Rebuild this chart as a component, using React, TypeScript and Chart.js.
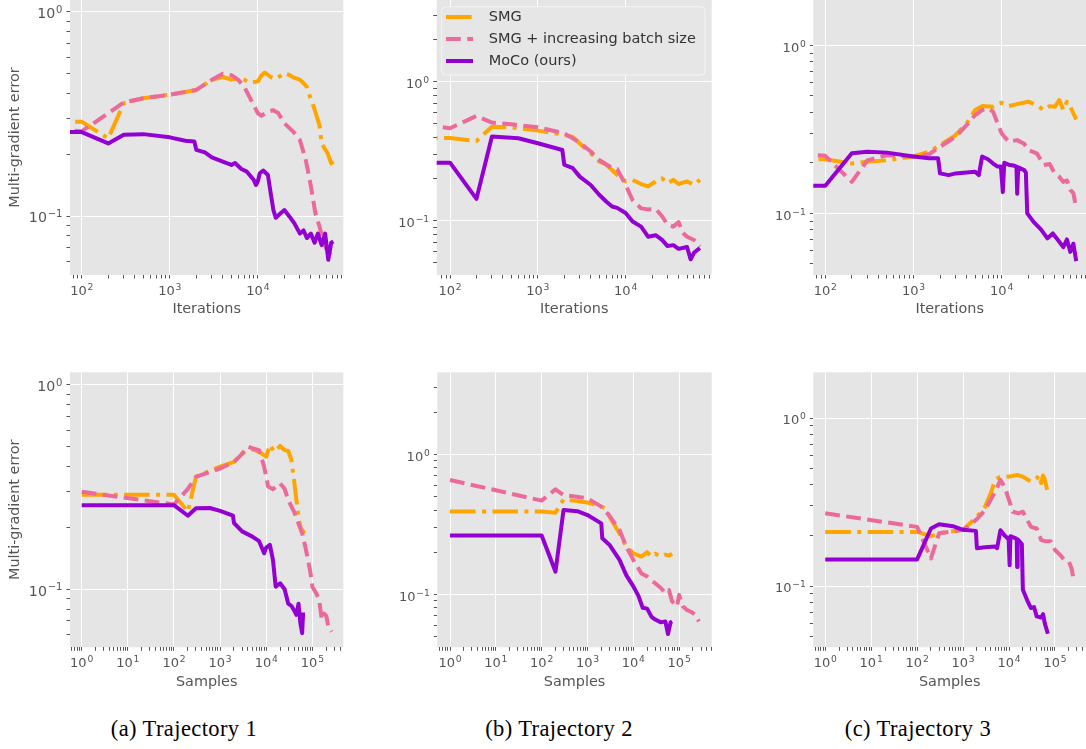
import React, { useEffect, useRef } from 'react';
import { Chart, registerables } from 'chart.js';

Chart.register(...registerables);

// ---------------- data ----------------
const SERIES_LABELS = ['SMG', 'SMG + increasing batch size', 'MoCo (ours)'];
const CAPTIONS = ['(a) Trajectory 1', '(b) Trajectory 2', '(c) Trajectory 3'];
const X_TITLES = ['Iterations', 'Samples'];
const Y_TITLE = 'Multi-gradient error';

// Trajectory 1 – iterations
const t1ItSmgX = [1, 100, 200, 300, 500, 1000, 2000, 3000, 4000, 5000, 6000, 7000, 8000, 10000, 11000, 12000, 14000, 16000, 18000, 20000, 23000, 26000, 30000, 33000, 36000, 40000, 43000, 46000, 50000, 53000, 57000, 62000, 68000, 72000];
const t1ItSmgY = [0.29, 0.29, 0.24, 0.357, 0.378, 0.393, 0.415, 0.465, 0.48, 0.466, 0.475, 0.466, 0.45, 0.457, 0.49, 0.505, 0.48, 0.47, 0.486, 0.502, 0.49, 0.475, 0.466, 0.448, 0.43, 0.372, 0.344, 0.313, 0.28, 0.227, 0.215, 0.203, 0.181, 0.185];
const t1ItBatchX = [1, 100, 200, 300, 500, 1000, 2000, 3000, 4000, 5000, 6000, 7000, 8000, 10000, 11000, 13000, 15000, 17000, 20000, 25000, 30000, 35000, 40000, 45000, 50000, 55000, 60000, 65000, 70000, 72000];
const t1ItBatchY = [0.30, 0.26, 0.319, 0.36, 0.378, 0.393, 0.415, 0.465, 0.498, 0.49, 0.465, 0.43, 0.385, 0.319, 0.31, 0.325, 0.33, 0.32, 0.285, 0.26, 0.236, 0.188, 0.14, 0.103, 0.089, 0.076, 0.069, 0.066, 0.063, 0.062];
const t1ItMocoX = [1, 100, 200, 300, 500, 1000, 1500, 1900, 2000, 2500, 3000, 4000, 5000, 5500, 6500, 7500, 9000, 9500, 10000, 10500, 11500, 13000, 14000, 15000, 16000, 18000, 20000, 23000, 26000, 30000, 33000, 36000, 40000, 44000, 48000, 53000, 58000, 63000, 68000, 72000];
const t1ItMocoY = [0.258, 0.258, 0.227, 0.25, 0.252, 0.243, 0.234, 0.232, 0.211, 0.205, 0.194, 0.185, 0.178, 0.182, 0.17, 0.165, 0.15, 0.142, 0.148, 0.162, 0.167, 0.159, 0.129, 0.107, 0.098, 0.103, 0.107, 0.099, 0.092, 0.082, 0.085, 0.078, 0.082, 0.074, 0.082, 0.072, 0.082, 0.061, 0.074, 0.075];

// Trajectory 2 – iterations
const t2ItSmgX = [1, 100, 200, 300, 500, 1000, 2000, 2500, 3000, 4000, 5000, 6000, 7000, 8000, 10000, 12000, 15000, 18000, 22000, 26000, 30000, 35000, 40000, 50000, 60000, 70000];
const t2ItSmgY = [0.394, 0.394, 0.375, 0.475, 0.47, 0.445, 0.414, 0.40, 0.36, 0.306, 0.267, 0.253, 0.232, 0.214, 0.192, 0.197, 0.184, 0.177, 0.192, 0.202, 0.186, 0.197, 0.184, 0.192, 0.182, 0.197];
const t2ItBatchX = [1, 100, 200, 300, 500, 1000, 2000, 3000, 4000, 5000, 7000, 8000, 10000, 12000, 15000, 18000, 22000, 26000, 30000, 35000, 40000, 45000, 50000, 60000, 70000];
const t2ItBatchY = [0.655, 0.463, 0.567, 0.508, 0.494, 0.47, 0.426, 0.365, 0.315, 0.274, 0.24, 0.236, 0.181, 0.141, 0.123, 0.121, 0.122, 0.108, 0.094, 0.091, 0.098, 0.082, 0.077, 0.073, 0.0655];
const t2ItMocoX = [1, 100, 200, 300, 600, 1000, 1900, 2000, 2500, 3000, 4000, 5000, 6000, 7000, 8000, 10000, 12000, 15000, 18000, 22000, 26000, 30000, 35000, 40000, 50000, 55000, 60000, 70000];
const t2ItMocoY = [0.262, 0.262, 0.144, 0.403, 0.392, 0.361, 0.323, 0.253, 0.239, 0.208, 0.181, 0.154, 0.138, 0.127, 0.124, 0.114, 0.099, 0.091, 0.077, 0.079, 0.073, 0.066, 0.067, 0.063, 0.065, 0.053, 0.059, 0.064];

// Trajectory 3 – iterations
const t3ItSmgX = [1, 100, 200, 300, 500, 1000, 1500, 2000, 3000, 4000, 5000, 6000, 8000, 10000, 12000, 15000, 20000, 25000, 30000, 35000, 40000, 45000, 50000, 55000, 60000, 70000];
const t3ItSmgY = [0.21, 0.21, 0.198, 0.203, 0.207, 0.218, 0.233, 0.255, 0.292, 0.343, 0.412, 0.435, 0.431, 0.456, 0.435, 0.447, 0.462, 0.441, 0.412, 0.435, 0.431, 0.473, 0.412, 0.462, 0.431, 0.363];
const t3ItBatchX = [1, 100, 200, 300, 500, 1000, 1500, 2000, 3000, 4000, 5000, 6000, 7000, 8000, 9000, 10000, 12000, 15000, 18000, 20000, 25000, 30000, 35000, 40000, 45000, 50000, 55000, 60000, 65000, 70000];
const t3ItBatchY = [0.271, 0.22, 0.154, 0.207, 0.222, 0.218, 0.225, 0.249, 0.286, 0.335, 0.385, 0.412, 0.422, 0.403, 0.343, 0.299, 0.267, 0.273, 0.26, 0.238, 0.228, 0.194, 0.197, 0.173, 0.165, 0.154, 0.157, 0.138, 0.132, 0.107];
const t3ItMocoX = [1, 100, 200, 300, 500, 1000, 1500, 1900, 2000, 2500, 3000, 4000, 5000, 5500, 6000, 7000, 8000, 9000, 9800, 10300, 10700, 12000, 14000, 14700, 15000, 15400, 18000, 18800, 19500, 23000, 28000, 33000, 38000, 43000, 50000, 55000, 60000, 65000, 70000];
const t3ItMocoY = [0.146, 0.146, 0.228, 0.233, 0.23, 0.218, 0.213, 0.213, 0.173, 0.169, 0.173, 0.175, 0.177, 0.169, 0.218, 0.21, 0.198, 0.19, 0.19, 0.134, 0.2, 0.195, 0.192, 0.19, 0.131, 0.188, 0.181, 0.175, 0.1, 0.089, 0.08, 0.071, 0.076, 0.07, 0.063, 0.07, 0.059, 0.066, 0.052];

// Trajectory 1 – samples
const t1SaSmgX = [1, 100, 200, 300, 1000, 2000, 3000, 5000, 7000, 10000, 12000, 15000, 20000, 25000, 30000, 35000, 40000, 45000, 50000, 55000, 60000, 68000];
const t1SaSmgY = [0.29, 0.29, 0.24, 0.356, 0.398, 0.42, 0.462, 0.484, 0.47, 0.446, 0.509, 0.47, 0.503, 0.48, 0.475, 0.43, 0.343, 0.274, 0.227, 0.202, 0.195, 0.188];
const t1SaBatchX = [1, 100, 200, 300, 1000, 2000, 3000, 4000, 5000, 7000, 9000, 11000, 14000, 20000, 25000, 30000, 40000, 50000, 60000, 70000, 80000, 90000, 100000, 120000, 140000, 160000, 180000, 200000, 220000, 260000];
const t1SaBatchY = [0.30, 0.26, 0.31, 0.355, 0.39, 0.42, 0.46, 0.499, 0.49, 0.48, 0.398, 0.318, 0.309, 0.33, 0.31, 0.273, 0.24, 0.21, 0.188, 0.162, 0.14, 0.122, 0.103, 0.096, 0.089, 0.071, 0.076, 0.074, 0.066, 0.062];
const t1SaMocoX = [1, 100, 200, 300, 600, 1000, 1900, 2000, 3000, 5000, 7000, 9000, 10000, 12000, 14000, 16000, 20000, 25000, 30000, 35000, 40000, 45000, 50000, 55000, 60000, 63000];
const t1SaMocoY = [0.258, 0.258, 0.229, 0.249, 0.25, 0.242, 0.229, 0.211, 0.192, 0.181, 0.172, 0.15, 0.16, 0.165, 0.139, 0.103, 0.107, 0.1, 0.085, 0.083, 0.079, 0.075, 0.085, 0.068, 0.061, 0.077];

// Trajectory 2 – samples
const t2SaSmgX = [1, 100, 200, 300, 1000, 2000, 2500, 3000, 5000, 7000, 10000, 15000, 20000, 25000, 30000, 40000, 50000, 60000, 70000];
const t2SaSmgY = [0.39, 0.39, 0.383, 0.477, 0.452, 0.423, 0.41, 0.359, 0.272, 0.219, 0.196, 0.186, 0.2, 0.186, 0.195, 0.186, 0.192, 0.189, 0.195];
const t2SaBatchX = [1, 100, 200, 300, 1000, 2000, 3000, 5000, 7000, 10000, 15000, 20000, 25000, 30000, 40000, 50000, 60000, 70000, 80000, 90000, 100000, 120000, 150000, 180000, 220000, 270000];
const t2SaBatchY = [0.655, 0.467, 0.562, 0.512, 0.485, 0.423, 0.365, 0.288, 0.219, 0.176, 0.141, 0.134, 0.125, 0.12, 0.111, 0.102, 0.107, 0.089, 0.086, 0.082, 0.099, 0.082, 0.077, 0.075, 0.072, 0.064];
const t2SaMocoX = [1, 100, 200, 300, 600, 1000, 2000, 2100, 3000, 5000, 7000, 10000, 13000, 16000, 20000, 25000, 30000, 40000, 50000, 57000, 65000, 70000];
const t2SaMocoY = [0.263, 0.263, 0.145, 0.40, 0.392, 0.368, 0.321, 0.251, 0.226, 0.176, 0.137, 0.114, 0.097, 0.08, 0.079, 0.069, 0.066, 0.063, 0.064, 0.052, 0.063, 0.064];

// Trajectory 3 – samples
const t3SaSmgX = [1, 100, 200, 300, 1000, 2000, 3000, 4000, 5000, 6000, 10000, 15000, 20000, 30000, 40000, 45000, 50000, 55000, 60000, 70000];
const t3SaSmgY = [0.21, 0.21, 0.198, 0.206, 0.216, 0.259, 0.296, 0.356, 0.428, 0.443, 0.448, 0.458, 0.448, 0.418, 0.438, 0.458, 0.41, 0.455, 0.43, 0.359];
const t3SaBatchX = [1, 100, 200, 300, 1000, 2000, 3000, 5000, 6500, 8000, 10000, 12000, 16000, 20000, 25000, 30000, 40000, 50000, 60000, 80000, 100000, 130000, 160000, 200000, 230000, 260000];
const t3SaBatchY = [0.271, 0.225, 0.146, 0.206, 0.216, 0.25, 0.283, 0.364, 0.428, 0.39, 0.325, 0.277, 0.271, 0.277, 0.247, 0.225, 0.22, 0.188, 0.185, 0.185, 0.164, 0.153, 0.143, 0.14, 0.127, 0.106];
const t3SaMocoX = [1, 100, 200, 300, 600, 1000, 1900, 2000, 3000, 5000, 5500, 6500, 8000, 9800, 10300, 10700, 14000, 14700, 15000, 15400, 19000, 20000, 25000, 30000, 35000, 40000, 50000, 55000, 60000, 70000];
const t3SaMocoY = [0.144, 0.144, 0.22, 0.233, 0.227, 0.216, 0.213, 0.168, 0.17, 0.172, 0.168, 0.215, 0.2, 0.19, 0.133, 0.198, 0.192, 0.19, 0.13, 0.19, 0.178, 0.095, 0.082, 0.074, 0.075, 0.066, 0.065, 0.068, 0.06, 0.052];

// ---------------- styling / layout ----------------
const FONT = 'DejaVu Sans';
const COLORS = ['#FFA500', '#EC6A9B', '#9400D3'];
const DASHES = [[25.6, 6.4, 4, 6.4], [14.8, 6.4], []];
const TITLE_SIZE = 14.4;
const TITLE_LH = TITLE_SIZE * 1.2;
const TICK_SIZE = 13;
const SUP_SIZE = 9.2;
const SUP_RAISE = 5;
const TICK_COLOR = '#555555';

const PANELS = [
  { left: 0, top: 0, w: 360, h: 330, area: { l: 70, t: 0, r: 343.3, b: 275 }, x: [73.6, 93300], y: [0.0514, 1.145], xTitle: X_TITLES[0], yTitle: true, legend: false, gap: 34, ySize: 14.2,
    series: [[t1ItSmgX, t1ItSmgY], [t1ItBatchX, t1ItBatchY], [t1ItMocoX, t1ItMocoY]] },
  { left: 360, top: 0, w: 360, h: 330, area: { l: 76.7, t: 0, r: 351.7, b: 275 }, x: [70.5, 95500], y: [0.0409, 3.855], xTitle: X_TITLES[0], yTitle: false, legend: true, gap: 34, ySize: 13,
    series: [[t2ItSmgX, t2ItSmgY], [t2ItBatchX, t2ItBatchY], [t2ItMocoX, t2ItMocoY]] },
  { left: 720, top: 0, w: 366, h: 330, area: { l: 93.3, t: 0, r: 366, b: 275 }, x: [73.1, 90400], y: [0.043, 1.862], xTitle: X_TITLES[0], yTitle: false, legend: false, gap: 34, ySize: 13,
    series: [[t3ItSmgX, t3ItSmgY], [t3ItBatchX, t3ItBatchY], [t3ItMocoX, t3ItMocoY]] },
  { left: 0, top: 360, w: 360, h: 340, area: { l: 70, t: 12.3, r: 343.3, b: 287.3 }, x: [0.558, 467700], y: [0.052, 1.153], xTitle: X_TITLES[1], yTitle: true, legend: false, gap: 35.4, ySize: 14.2,
    series: [[t1SaSmgX, t1SaSmgY], [t1SaBatchX, t1SaBatchY], [t1SaMocoX, t1SaMocoY]] },
  { left: 360, top: 360, w: 360, h: 340, area: { l: 77.3, t: 12.3, r: 351.7, b: 287.3 }, x: [0.528, 513000], y: [0.0418, 3.855], xTitle: X_TITLES[1], yTitle: false, legend: false, gap: 35.4, ySize: 13,
    series: [[t2SaSmgX, t2SaSmgY], [t2SaBatchX, t2SaBatchY], [t2SaMocoX, t2SaMocoY]] },
  { left: 720, top: 360, w: 366, h: 340, area: { l: 93.3, t: 12.3, r: 366, b: 287.3 }, x: [0.55, 473000], y: [0.0432, 1.871], xTitle: X_TITLES[1], yTitle: false, legend: false, gap: 35.4, ySize: 13,
    series: [[t3SaSmgX, t3SaSmgY], [t3SaBatchX, t3SaBatchY], [t3SaMocoX, t3SaMocoY]] },
];

const CAPTION_CENTERS = [184, 559, 918];

// ---------------- helpers ----------------
const isPow10 = (v: number) => {
  const l = Math.log10(v);
  return Math.abs(l - Math.round(l)) < 1e-9;
};

function logTicks(min: number, max: number) {
  const out: any[] = [];
  const e0 = Math.floor(Math.log10(min));
  const e1 = Math.ceil(Math.log10(max));
  for (let e = e0; e <= e1; e++) {
    for (let m = 1; m <= 9; m++) {
      const v = parseFloat((m * Math.pow(10, e)).toPrecision(12));
      if (v >= min && v <= max) out.push({ value: v, major: m === 1 });
    }
  }
  return out;
}

function axisOptions(min: number, max: number, isX: boolean, title: string, showTitle: boolean, size: number, titlePad: number) {
  return {
    type: 'logarithmic',
    position: isX ? 'bottom' : 'left',
    min,
    max,
    afterBuildTicks: (s: any) => {
      s.ticks = logTicks(min, max);
    },
    afterFit: (s: any) => {
      if (isX) s.height = size;
      else s.width = size;
      s.paddingLeft = 0;
      s.paddingRight = 0;
      s.paddingTop = 0;
      s.paddingBottom = 0;
    },
    border: { display: false },
    grid: {
      color: (c: any) => (c.tick && isPow10(c.tick.value) ? '#FFFFFF' : 'rgba(0,0,0,0)'),
      lineWidth: 1,
      drawTicks: true,
      tickLength: 3.5,
      tickWidth: 1,
      tickColor: TICK_COLOR,
    },
    ticks: {
      autoSkip: false,
      maxRotation: 0,
      minRotation: 0,
      padding: 2,
      color: TICK_COLOR,
      font: { family: FONT, size: TICK_SIZE },
      callback: () => '',
    },
    title: {
      display: showTitle,
      text: title,
      color: TICK_COLOR,
      font: { family: FONT, size: TITLE_SIZE },
      padding: isX ? { top: 0, bottom: titlePad } : { top: titlePad, bottom: 0 },
    },
  };
}

const bgPlugin = {
  id: 'ggBackground',
  beforeDraw(chart: any) {
    const { ctx, chartArea: a } = chart;
    ctx.save();
    ctx.fillStyle = '#E5E5E5';
    ctx.fillRect(a.left, a.top, a.right - a.left, a.bottom - a.top);
    ctx.restore();
  },
};

// draws "10" with a raised exponent for each power-of-ten tick of the chart's log scales
function makePowLabelPlugin(ySize: number) {
  return {
    id: 'powLabels',
    afterDraw(chart: any) {
      const { ctx, chartArea: a } = chart;
      const xs = chart.scales.x;
      const ys = chart.scales.y;
      const draw = (v: number, ax: number, baseY: number, align: string, size: number) => {
        const e = Math.round(Math.log10(v));
        const es = (e < 0 ? '\u2212' : '') + Math.abs(e);
        const supSize = size * (SUP_SIZE / TICK_SIZE);
        const raise = size * (SUP_RAISE / TICK_SIZE);
        ctx.font = `${size}px "${FONT}"`;
        const bw = ctx.measureText('10').width;
        ctx.font = `${supSize}px "${FONT}"`;
        const ew = ctx.measureText(es).width;
        const total = bw + 0.8 + ew;
        const x0 = align === 'center' ? ax - total / 2 : ax - total;
        ctx.font = `${size}px "${FONT}"`;
        ctx.fillText('10', x0, baseY);
        ctx.font = `${supSize}px "${FONT}"`;
        ctx.fillText(es, x0 + bw + 0.8, baseY - raise);
      };
      ctx.save();
      ctx.fillStyle = TICK_COLOR;
      ctx.textAlign = 'left';
      ctx.textBaseline = 'alphabetic';
      for (const t of xs.ticks) {
        if (!isPow10(t.value)) continue;
        const px = xs.getPixelForValue(t.value);
        draw(t.value, px, a.bottom + 19.5, 'center', TICK_SIZE);
      }
      for (const t of ys.ticks) {
        if (!isPow10(t.value)) continue;
        const py = ys.getPixelForValue(t.value);
        draw(t.value, a.left - 7.5, py + 6.3, 'right', ySize);
      }
      ctx.restore();
    },
  };
}

const legendPlugin = {
  id: 'ggLegend',
  afterDatasetsDraw(chart: any) {
    const { ctx, chartArea: a } = chart;
    const bx = a.left + 5;
    const by = a.top + 6.7;
    const bw = a.right - a.left - 11.7;
    const bh = 68.3;
    ctx.save();
    ctx.beginPath();
    ctx.roundRect(bx, by, bw, bh, 4);
    ctx.fillStyle = 'rgba(229,229,229,0.9)';
    ctx.fill();
    ctx.lineWidth = 1;
    ctx.strokeStyle = 'rgba(245,245,245,0.9)';
    ctx.stroke();
    SERIES_LABELS.forEach((label, i) => {
      const yy = by + 10.3 + i * 22;
      ctx.beginPath();
      ctx.setLineDash(DASHES[i]);
      ctx.lineWidth = 4;
      ctx.strokeStyle = COLORS[i];
      ctx.lineCap = 'butt';
      ctx.moveTo(bx + 4.3, yy);
      ctx.lineTo(bx + 31.3, yy);
      ctx.stroke();
      ctx.setLineDash([]);
      ctx.fillStyle = '#333333';
      ctx.font = `14.5px "${FONT}"`;
      ctx.textBaseline = 'middle';
      ctx.textAlign = 'left';
      ctx.fillText(label, bx + 47, yy + 0.5);
    });
    ctx.restore();
  },
};

function makeChart(canvas: HTMLCanvasElement, p: any) {
  const xAxisH = p.h - p.area.b;
  const xTitlePad = xAxisH - p.gap - TITLE_LH / 2;
  const yTitlePad = 15 - TITLE_LH / 2;
  const datasets = p.series.map((s: any, i: number) => ({
    label: SERIES_LABELS[i],
    data: s[0].map((x: number, j: number) => ({ x, y: s[1][j] })),
    borderColor: COLORS[i],
    backgroundColor: COLORS[i],
    borderWidth: 4,
    borderDash: DASHES[i],
    borderJoinStyle: 'round',
    borderCapStyle: 'butt',
    pointRadius: 0,
    pointHoverRadius: 0,
    tension: 0,
    fill: false,
    clip: 0,
    order: 3 - i,
  }));
  const plugins: any[] = [bgPlugin, makePowLabelPlugin(p.ySize)];
  if (p.legend) plugins.push(legendPlugin);
  return new Chart(canvas, {
    type: 'line',
    data: { datasets },
    options: {
      animation: false,
      responsive: false,
      maintainAspectRatio: false,
      events: [],
      layout: { autoPadding: false, padding: { left: 0, top: p.area.t, right: p.w - p.area.r, bottom: 0 } },
      plugins: { legend: { display: false }, tooltip: { enabled: false } },
      scales: {
        x: axisOptions(p.x[0], p.x[1], true, p.xTitle, true, xAxisH, xTitlePad),
        y: axisOptions(p.y[0], p.y[1], false, Y_TITLE, p.yTitle, p.area.l, yTitlePad),
      },
    } as any,
    plugins,
  } as any);
}

function Panel({ p }: { p: any }) {
  const ref = useRef<HTMLCanvasElement | null>(null);
  useEffect(() => {
    if (!ref.current) return;
    const chart = makeChart(ref.current, p);
    return () => chart.destroy();
  }, [p]);
  return (
    <canvas
      ref={ref}
      width={p.w}
      height={p.h}
      style={{ position: 'absolute', left: p.left, top: p.top, width: p.w, height: p.h }}
    />
  );
}

export default function App() {
  return (
    <div style={{ position: 'absolute', left: 0, top: 0, width: 1086, height: 749, background: '#FFFFFF', overflow: 'hidden' }}>
      {PANELS.map((p, i) => (
        <Panel key={i} p={p} />
      ))}
      {CAPTIONS.map((c, i) => (
        <div
          key={c}
          style={{
            position: 'absolute',
            left: CAPTION_CENTERS[i],
            top: 718,
            transform: 'translateX(-50%)',
            fontFamily: '"Liberation Serif", "Times New Roman", serif',
            fontSize: 22.5,
            lineHeight: '22px',
            letterSpacing: '0.4px',
            color: '#000000',
            whiteSpace: 'nowrap',
          }}
        >
          {c}
        </div>
      ))}
    </div>
  );
}
